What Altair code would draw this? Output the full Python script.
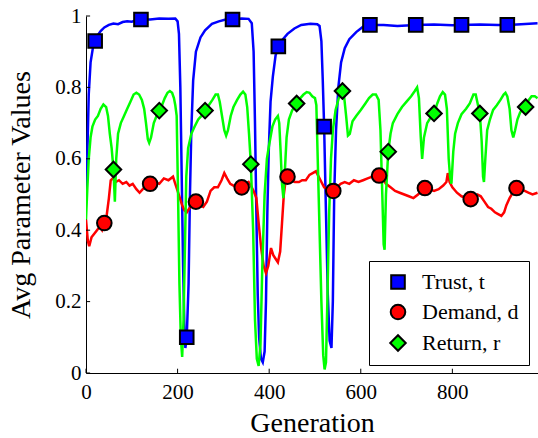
import altair as alt
import pandas as pd

# ---------------- data ----------------
trust_x = [0, 3, 6, 10, 15, 20, 25, 32, 40, 50, 60, 70, 80, 90, 100, 110, 120, 140, 160, 180, 195, 200,
           203, 206, 209, 212, 215, 217, 220, 224, 227, 230, 234, 240, 250, 260, 275, 290, 305, 320, 340,
           355, 362, 366, 369, 372, 375, 378, 382, 386, 390, 393, 396, 399, 403, 408, 414, 420, 430, 440,
           455, 470, 490, 505, 510, 514, 517, 520, 524, 528, 532, 536, 539, 542, 546, 551, 557, 565, 575,
           590, 605, 620, 650, 680, 720, 760, 800, 820, 860, 900, 920, 950, 986]
trust_y = [0.50, 0.62, 0.78, 0.87, 0.91, 0.93, 0.945, 0.958, 0.968, 0.975, 0.979, 0.977, 0.983, 0.985,
           0.984, 0.988, 0.99, 0.99, 0.993, 0.992, 0.993, 0.985, 0.95, 0.80, 0.55, 0.30, 0.12, 0.07, 0.10,
           0.25, 0.50, 0.68, 0.82, 0.90, 0.94, 0.96, 0.978, 0.985, 0.99, 0.99, 0.993, 0.992, 0.98, 0.90,
           0.70, 0.45, 0.22, 0.10, 0.04, 0.03, 0.06, 0.20, 0.45, 0.62, 0.76, 0.83, 0.89, 0.915, 0.935, 0.95,
           0.965, 0.975, 0.978, 0.977, 0.972, 0.93, 0.82, 0.69, 0.45, 0.22, 0.09, 0.07, 0.20, 0.50, 0.68,
           0.80, 0.87, 0.91, 0.935, 0.955, 0.97, 0.975, 0.975, 0.972, 0.975, 0.976, 0.974, 0.975, 0.976,
           0.975, 0.975, 0.977, 0.98]

demand_x = [0, 4, 7, 12, 18, 24, 30, 35, 40, 45, 50, 54, 58, 65, 72, 80, 88, 95, 102, 110, 117, 124,
            132, 140, 150, 160, 170, 180, 190, 195, 200, 205, 210, 215, 220, 225, 232, 240, 248, 256, 264,
            272, 280, 288, 296, 302, 308, 315, 322, 330, 340, 348, 355, 360, 366, 372, 377, 383, 388, 393,
            398, 404, 409, 414, 419, 424, 428, 432, 436, 440, 448, 456, 465, 472, 480, 488, 495, 502, 508,
            514, 520, 527, 533, 540, 548, 556, 565, 575, 585, 595, 605, 615, 625, 632, 640, 648, 655, 665,
            675, 685, 695, 705, 715, 725, 732, 740, 750, 760, 770, 780, 787, 790, 794, 800, 810, 820, 830,
            840, 848, 855, 862, 870, 878, 885, 893, 900, 907, 913, 918, 925, 932, 940, 950, 958, 966, 975,
            986]
demand_y = [0.43, 0.37, 0.355, 0.38, 0.39, 0.40, 0.41, 0.40, 0.42, 0.44, 0.49, 0.54, 0.545, 0.535, 0.54,
            0.53, 0.535, 0.525, 0.53, 0.515, 0.505, 0.515, 0.525, 0.53, 0.535, 0.53, 0.545, 0.54, 0.55,
            0.53, 0.51, 0.49, 0.47, 0.455, 0.45, 0.46, 0.47, 0.48, 0.47, 0.465, 0.48, 0.51, 0.52, 0.52,
            0.54, 0.56, 0.545, 0.53, 0.525, 0.52, 0.52, 0.53, 0.535, 0.525, 0.51, 0.49, 0.42, 0.345, 0.30,
            0.28, 0.30, 0.35, 0.33, 0.32, 0.31, 0.34, 0.42, 0.50, 0.54, 0.55, 0.54, 0.535, 0.535, 0.54, 0.54,
            0.555, 0.56, 0.565, 0.55, 0.535, 0.52, 0.515, 0.51, 0.51, 0.52, 0.53, 0.535, 0.53, 0.54, 0.535,
            0.54, 0.545, 0.55, 0.555, 0.553, 0.545, 0.53, 0.52, 0.51, 0.505, 0.50, 0.495, 0.49, 0.50, 0.51,
            0.518, 0.515, 0.51, 0.515, 0.525, 0.535, 0.56, 0.535, 0.52, 0.505, 0.495, 0.49, 0.487, 0.49,
            0.50, 0.495, 0.48, 0.465, 0.46, 0.45, 0.445, 0.44, 0.45, 0.47, 0.49, 0.505, 0.518, 0.515, 0.51,
            0.505, 0.50, 0.505]

return_x = [0, 3, 6, 10, 14, 20, 26, 32, 38, 44, 48, 52, 56, 60, 63, 66, 70, 76, 83, 90, 97, 104, 110,
            116, 122, 127, 131, 135, 138, 142, 148, 154, 160, 166, 172, 178, 183, 188, 192, 195, 198, 201,
            204, 207, 210, 213, 216, 219, 223, 230, 237, 245, 252, 260, 268, 276, 283, 288, 292, 297, 302,
            306, 310, 316, 322, 330, 337, 343, 348, 352, 356, 360, 365, 369, 373, 377, 381, 385, 390, 395,
            400, 407, 413, 419, 422, 425, 428, 431, 434, 438, 443, 450, 460, 468, 475, 482, 488, 494, 500,
            503, 507, 510, 514, 518, 521, 524, 527, 531, 535, 539, 545, 552, 560, 564, 568, 572, 576, 582,
            590, 600, 610, 618, 626, 633, 639, 643, 647, 650, 652, 655, 660, 665, 670, 680, 690, 700, 710,
            718, 723, 727, 731, 734, 738, 745, 752, 760, 767, 773, 779, 784, 788, 792, 795, 798, 802, 806,
            812, 820, 830, 838, 846, 851, 856, 860, 864, 867, 869, 872, 876, 882, 889, 897, 905, 912, 916,
            920, 925, 929, 933, 937, 942, 948, 954, 960, 967, 973, 980, 986]
return_y = [0.43, 0.52, 0.60, 0.66, 0.69, 0.71, 0.72, 0.74, 0.752, 0.745, 0.72, 0.67, 0.63, 0.57, 0.48,
            0.60, 0.67, 0.70, 0.72, 0.74, 0.76, 0.78, 0.785, 0.78, 0.765, 0.74, 0.70, 0.655, 0.645, 0.66,
            0.70, 0.72, 0.735, 0.75, 0.77, 0.785, 0.79, 0.785, 0.77, 0.75, 0.72, 0.50, 0.25, 0.10, 0.045,
            0.15, 0.35, 0.55, 0.63, 0.67, 0.69, 0.71, 0.72, 0.735, 0.75, 0.765, 0.78, 0.78, 0.76, 0.72, 0.68,
            0.665, 0.68, 0.72, 0.745, 0.765, 0.78, 0.788, 0.78, 0.745, 0.67, 0.585, 0.40, 0.15, 0.04, 0.02,
            0.08, 0.30, 0.50, 0.60, 0.64, 0.69, 0.71, 0.72, 0.70, 0.62, 0.53, 0.49, 0.56, 0.66, 0.71, 0.735,
            0.755, 0.77, 0.78, 0.787, 0.785, 0.775, 0.77, 0.75, 0.55, 0.40, 0.20, 0.05, 0.01, 0.03, 0.20,
            0.45, 0.60, 0.68, 0.737, 0.77, 0.79, 0.77, 0.72, 0.665, 0.67, 0.705, 0.72, 0.737, 0.755, 0.77,
            0.78, 0.78, 0.765, 0.68, 0.50, 0.36, 0.345, 0.50, 0.62, 0.67, 0.70, 0.725, 0.745, 0.76, 0.775,
            0.79, 0.80, 0.77, 0.66, 0.60, 0.66, 0.70, 0.715, 0.727, 0.755, 0.775, 0.787, 0.78, 0.74, 0.60,
            0.55, 0.53, 0.62, 0.67, 0.70, 0.725, 0.74, 0.755, 0.78, 0.78, 0.75, 0.727, 0.65, 0.55, 0.535,
            0.60, 0.68, 0.71, 0.737, 0.75, 0.765, 0.78, 0.785, 0.775, 0.74, 0.68, 0.66, 0.68, 0.71, 0.73,
            0.74, 0.745, 0.765, 0.775, 0.775, 0.77]

trust_mx = [20, 120, 220, 320, 420, 520, 620, 720, 820, 920]
trust_my = [0.93, 0.99, 0.10, 0.99, 0.915, 0.69, 0.975, 0.975, 0.975, 0.975]
demand_mx = [40, 140, 240, 340, 440, 540, 640, 740, 840, 940]
demand_my = [0.42, 0.53, 0.48, 0.52, 0.55, 0.51, 0.553, 0.518, 0.487, 0.518]
return_mx = [60, 160, 260, 360, 460, 560, 660, 760, 860, 960]
return_my = [0.57, 0.735, 0.735, 0.585, 0.755, 0.79, 0.62, 0.727, 0.727, 0.745]

series_names = ["Trust, t", "Demand, d", "Return, r"]
series_colors = ["#0000FF", "#FF0000", "#00FF00"]
series_shapes = ["square", "circle", "diamond"]

x_ticks = [0, 200, 400, 600, 800]
y_ticks = [0, 0.2, 0.4, 0.6, 0.8, 1]

# ---------------- build tables ----------------
line_sets = [(trust_x, trust_y), (demand_x, demand_y), (return_x, return_y)]
marker_sets = [(trust_mx, trust_my), (demand_mx, demand_my), (return_mx, return_my)]

FONT = "Liberation Serif"
XDOM = [0, 987]
xscale = alt.Scale(domain=XDOM, nice=False, zero=False)
yscale = alt.Scale(domain=[0, 1], nice=False)

x_axis = alt.Axis(values=x_ticks, title="Generation", grid=False, ticks=False,
                  labelFont=FONT, labelFontSize=21, labelColor="black", labelPadding=8,
                  titleFont=FONT, titleFontSize=28, titleFontWeight="normal", titleColor="black",
                  titlePadding=7, domainColor="black", domainWidth=1, labelFlush=False)
y_axis = alt.Axis(values=y_ticks, title="Avg Parameter Values", grid=False, ticks=False,
                  format="~g", labelFont=FONT, labelFontSize=21, labelColor="black", labelPadding=5,
                  titleFont=FONT, titleFontSize=28, titleFontWeight="normal", titleColor="black",
                  titlePadding=19, domainColor="black", domainWidth=1, labelFlush=False)

layers = []
for i, (xs, ys) in enumerate(line_sets):
    df = pd.DataFrame({"x": xs, "y": ys})
    layers.append(
        alt.Chart(df).mark_line(color=series_colors[i], strokeWidth=2.5, clip=True).encode(
            x=alt.X("x:Q", scale=xscale, axis=x_axis),
            y=alt.Y("y:Q", scale=yscale, axis=y_axis),
        )
    )

mrows = []
for name, (mx, my) in zip(series_names, marker_sets):
    for a, b in zip(mx, my):
        mrows.append({"series": name, "x": a, "y": b})
mdf = pd.DataFrame(mrows)

legend = alt.Legend(title=None, orient="none", legendX=283, legendY=245,
                    strokeColor="black", fillColor="white", padding=10, cornerRadius=0,
                    labelFont=FONT, labelFontSize=22, labelColor="black", labelOffset=13,
                    symbolSize=300, symbolStrokeColor="black", symbolStrokeWidth=2,
                    symbolOffset=8, rowPadding=7, labelLimit=300)

points = alt.Chart(mdf).mark_point(filled=True, stroke="black", strokeWidth=2, opacity=1).encode(
    x=alt.X("x:Q", scale=xscale, axis=x_axis),
    y=alt.Y("y:Q", scale=yscale, axis=y_axis),
    color=alt.Color("series:N", scale=alt.Scale(domain=series_names, range=series_colors),
                    legend=legend, sort=series_names),
    shape=alt.Shape("series:N", scale=alt.Scale(domain=series_names, range=series_shapes),
                    legend=legend, sort=series_names),
    size=alt.Size("series:N", scale=alt.Scale(domain=series_names, range=[185, 240, 330]),
                  legend=None),
)

xt = alt.Chart(pd.DataFrame({"x": x_ticks})).mark_rule(color="black", strokeWidth=1).encode(
    x=alt.X("x:Q", scale=xscale, axis=x_axis),
    y=alt.YDatum(0), y2=alt.Y2Datum(0.012))
yt = alt.Chart(pd.DataFrame({"y": y_ticks})).mark_rule(color="black", strokeWidth=1).encode(
    y=alt.Y("y:Q", scale=yscale, axis=y_axis),
    x=alt.XDatum(0), x2=alt.X2Datum(9))

chart = alt.layer(*layers, points, xt, yt).properties(
    width=452, height=357,
    autosize=alt.AutoSizeParams(type="none"),
    padding={"left": 86, "top": 16, "right": 0, "bottom": 65},
    background="white",
).configure_view(stroke=None)

chart.save("out.html", embed_options={"renderer": "svg", "actions": False})
